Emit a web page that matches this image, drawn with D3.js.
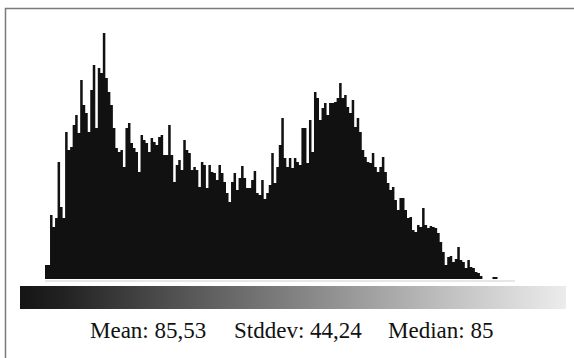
<!DOCTYPE html>
<html>
<head>
<meta charset="utf-8">
<script src="https://cdn.jsdelivr.net/npm/d3@7/dist/d3.min.js"></script>
<style>
  html, body { margin: 0; padding: 0; background: #fff; }
  svg { display: block; }
</style>
</head>
<body>
<script>
// Histogram bin counts (grey levels, left to right)
const histogramCounts = [
  14, 14, 64, 52, 61, 117, 72, 61, 147, 129, 132, 154, 164, 146, 199, 174, 166, 147, 189, 214,
  151, 211, 206, 246, 201, 187, 174, 151, 131, 127,
  129, 112, 151, 156, 136, 131, 127, 107, 144, 139, 136, 127, 141, 137, 134, 142, 144, 124, 124, 154,
  124, 97, 114, 119, 109, 139, 129, 126, 109, 112, 109, 92, 117, 114,
  91, 114, 107, 106, 99, 114, 106, 97, 86, 77, 97, 106, 89, 101, 113, 101, 91, 91, 99, 108,
  86, 84, 99, 80, 86, 94, 126, 96, 112, 134, 161, 121, 112, 121, 111,
  121, 117, 114, 151, 151, 116, 159, 127, 187, 181, 159, 171, 176, 164, 176, 176, 177, 181, 196, 181,
  184, 172, 166, 179, 152, 161, 147, 129, 122, 117, 116, 126, 112, 107, 112, 122,
  107, 96, 89, 92, 79, 69, 81, 81, 69, 61, 62, 49, 47, 54, 52, 71, 54, 51, 53, 52,
  51, 46, 37, 27, 14, 22, 23, 17, 20, 32, 19, 17, 11, 19, 12, 11, 7, 6, 3,
  0, 0, 0, 0, 2, 2
];
const countDomain = [0, 250];
const statLabels = ["Mean: 85,53", "Stddev: 44,24", "Median: 85"];

const W = 574, H = 358;
const svg = d3.select("body").append("svg").attr("width", W).attr("height", H);

// frame (top and left edges visible)
svg.append("path")
  .attr("d", "M5.5,358 L5.5,8.5 L574,8.5")
  .attr("fill", "none").attr("stroke", "#7a7a7a").attr("stroke-width", 1.5);

const x = d3.scaleLinear().domain([0, histogramCounts.length]).range([45, 497.5]);
const y = d3.scaleLinear().domain(countDomain).range([279, 29]);

const pts = histogramCounts.map((v, i) => [i, v]);
pts.push([histogramCounts.length, histogramCounts[histogramCounts.length - 1]]);

const area = d3.area()
  .x(d => x(d[0]))
  .y0(y(0))
  .y1(d => y(d[1]))
  .curve(d3.curveStepAfter);

svg.append("path")
  .datum(pts)
  .attr("d", area)
  .attr("fill", "#111");

// faint baseline under histogram
svg.append("line")
  .attr("x1", 45).attr("x2", 515)
  .attr("y1", 281).attr("y2", 281)
  .attr("stroke", "#cfcfcf").attr("stroke-width", 1);

// grey-level gradient bar
const defs = svg.append("defs");
const grad = defs.append("linearGradient").attr("id", "grey").attr("x1", "0").attr("x2", "1");
[[0, "#151515"], [0.08, "#222"], [0.3, "#555"], [0.55, "#8c8c8c"], [0.8, "#c4c4c4"], [1, "#ececec"]]
  .forEach(s => grad.append("stop").attr("offset", s[0]).attr("stop-color", s[1]));

svg.append("rect")
  .attr("x", 20).attr("y", 286).attr("width", 546).attr("height", 23)
  .attr("fill", "url(#grey)");

// statistics
const statX = [90, 234, 388];
svg.selectAll("text.stat")
  .data(statLabels)
  .enter().append("text")
  .attr("class", "stat")
  .attr("x", (d, i) => statX[i])
  .attr("y", 338)
  .attr("font-family", "'Liberation Serif', 'Times New Roman', serif")
  .attr("font-size", 23)
  .attr("fill", "#111")
  .text(d => d);
</script>
</body>
</html>
